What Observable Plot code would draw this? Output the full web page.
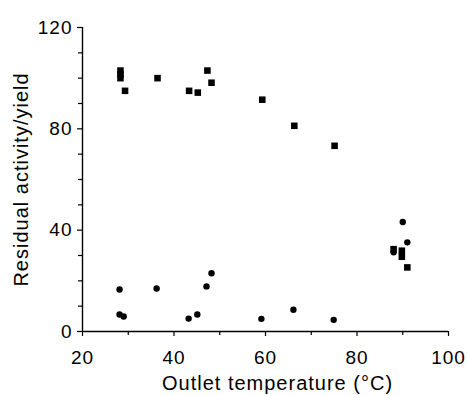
<!DOCTYPE html>
<html>
<head>
<meta charset="utf-8">
<script src="https://cdn.jsdelivr.net/npm/d3@7"></script>
<script src="https://cdn.jsdelivr.net/npm/@observablehq/plot@0.6"></script>
<style>
  html, body { margin: 0; padding: 0; background: #fff; }
  svg text { letter-spacing: 1px; }
</style>
</head>
<body>
<div id="chart"></div>
<script>
// Squares: residual activity
const squareX = [28.3, 28.3, 28.3, 29.3, 36.4, 43.3, 45.2, 47.3, 48.2, 59.3, 66.3, 75.1, 88.0, 89.8, 89.8, 91.0];
const squareY = [103, 101.5, 100, 95, 100, 95, 94.3, 103, 98.2, 91.5, 81.2, 73.3, 32.5, 31.9, 29.5, 25.3];
// Circles: yield
const circleX = [28.1, 28.1, 29.0, 36.2, 43.2, 45.1, 47.1, 48.2, 59.1, 66.1, 74.9, 88.0, 90.0, 91.0];
const circleY = [16.6, 6.7, 5.9, 17.0, 5.1, 6.7, 17.8, 23.0, 5.0, 8.6, 4.6, 31.3, 43.2, 35.2];

const xMajor = [20, 40, 60, 80, 100];
const xMinor = [30, 50, 70, 90];
const yMajor = [0, 40, 80, 120];
const yMinor = [10, 20, 30, 50, 60, 70, 90, 100, 110];
const xTitle = "Outlet temperature (°C)";
const yTitle = "Residual activity/yield";

const squares = squareX.map((x, i) => ({x, y: squareY[i]}));
const circles = circleX.map((x, i) => ({x, y: circleY[i]}));

const chart = Plot.plot({
  width: 467,
  height: 395,
  marginLeft: 82,
  marginRight: 19,
  marginTop: 27,
  marginBottom: 64,
  style: {fontFamily: "'Liberation Sans', Arial, sans-serif", fontSize: "19px", color: "#000", background: "#fff"},
  x: {domain: [20, 100], label: null},
  y: {domain: [0, 120], label: null},
  marks: [
    Plot.axisY({ticks: yMinor, tickSize: 4, tickFormat: () => "", strokeWidth: 1.2, label: null}),
    Plot.axisY({ticks: yMajor, tickSize: 5, tickPadding: 5, strokeWidth: 1.2, label: null}),
    Plot.axisX({ticks: xMinor, tickSize: 4, tickFormat: () => "", strokeWidth: 1.2, label: null}),
    Plot.axisX({ticks: xMajor, tickSize: 5, tickPadding: 14, strokeWidth: 1.2, label: null}),
    Plot.ruleX([20], {stroke: "#000", strokeWidth: 1.4}),
    Plot.ruleY([0], {stroke: "#000", strokeWidth: 1.4}),
    Plot.dot(squares, {x: "x", y: "y", symbol: "square", r: 3.7, fill: "#000", stroke: "none"}),
    Plot.dot(circles, {x: "x", y: "y", symbol: "circle", r: 3.2, fill: "#000", stroke: "none"}),
    Plot.text([yTitle], {frameAnchor: "left", rotate: -90, dx: -61, textAnchor: "middle", lineAnchor: "middle", fontSize: 20, fill: "#000"}),
    Plot.text([xTitle], {frameAnchor: "bottom", dy: 58, dx: 12, textAnchor: "middle", lineAnchor: "bottom", fontSize: 20, fill: "#000"})
  ]
});
document.getElementById("chart").appendChild(chart);
</script>
</body>
</html>
